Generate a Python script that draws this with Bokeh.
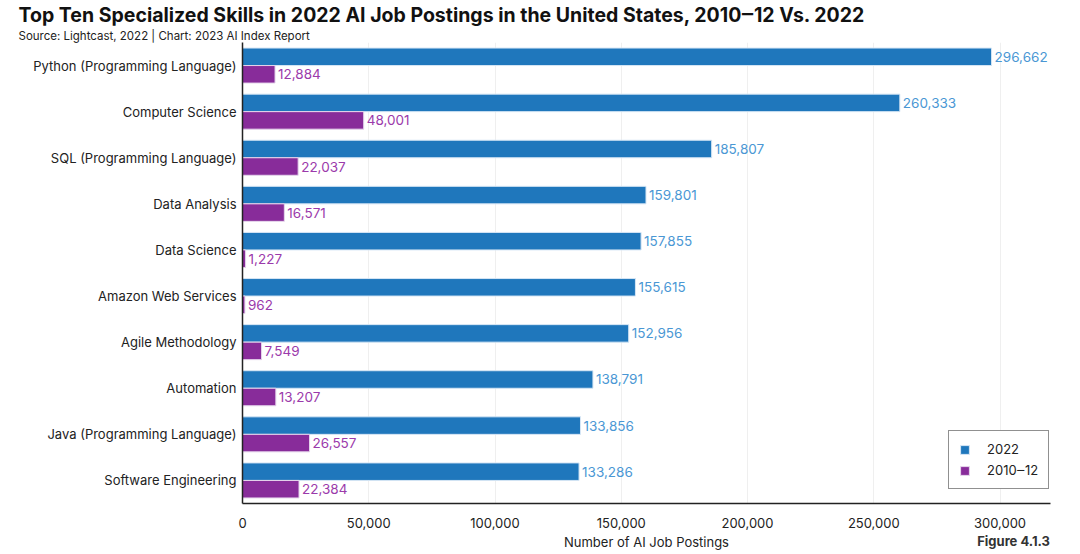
from bokeh.plotting import figure
from bokeh.layouts import column
from bokeh.models import Title, Div, Legend, LegendItem, ColumnDataSource, FactorRange, NumeralTickFormatter, FixedTicker
from bokeh.transform import dodge
from bokeh.core.properties import value
from bokeh.embed import file_html
from bokeh.resources import INLINE

skills = [
    "Python (Programming Language)",
    "Computer Science",
    "SQL (Programming Language)",
    "Data Analysis",
    "Data Science",
    "Amazon Web Services",
    "Agile Methodology",
    "Automation",
    "Java (Programming Language)",
    "Software Engineering",
]
postings_2022 = [296662, 260333, 185807, 159801, 157855, 155615, 152956, 138791, 133856, 133286]
postings_2010_12 = [12884, 48001, 22037, 16571, 1227, 962, 7549, 13207, 26557, 22384]
x_ticks = [0, 50000, 100000, 150000, 200000, 250000, 300000]

FONT = "Inter"
BLUE = "#1f77bc"
PURPLE = "#882c9a"
BLUE_TXT = "#4a97d4"
PURPLE_TXT = "#9b3aab"

src = ColumnDataSource(dict(
    skill=skills,
    v22=postings_2022,
    v10=postings_2010_12,
    l22=[f"{v:,}" for v in postings_2022],
    l10=[f"{v:,}" for v in postings_2010_12],
))

p = figure(
    width=1072, height=552,
    y_range=FactorRange(factors=list(reversed(skills)), range_padding=0),
    x_range=(0, 320000),
    output_backend="svg", toolbar_location=None,
    min_border_left=242, min_border_right=22, min_border_top=0, min_border_bottom=44,
)
p.title.visible = False

y22 = dodge("skill", 0.19, range=p.y_range)
y10 = dodge("skill", -0.19, range=p.y_range)

r22 = p.hbar(y=y22, right="v22", left=0, height=0.38, source=src,
             fill_color=BLUE, line_color="#d6e6f5", line_width=1)
r10 = p.hbar(y=y10, right="v10", left=0, height=0.38, source=src,
             fill_color=PURPLE, line_color="#e6d6ec", line_width=1)

p.text(x="v22", y=y22, text="l22", source=src, x_offset=3,
       text_baseline="middle", text_align="left", text_color=BLUE_TXT,
       text_font=value(FONT), text_font_size="13.5px")
p.text(x="v10", y=y10, text="l10", source=src, x_offset=3,
       text_baseline="middle", text_align="left", text_color=PURPLE_TXT,
       text_font=value(FONT), text_font_size="13.5px")

# axes
p.xaxis.ticker = FixedTicker(ticks=x_ticks)
p.xaxis.formatter = NumeralTickFormatter(format="0,0")
p.xaxis.axis_label = "Number of AI Job Postings"
p.xaxis.axis_label_text_font = FONT
p.xaxis.axis_label_text_font_style = "normal"
p.xaxis.axis_label_text_font_size = "13px"
p.xaxis.axis_label_text_color = "#222222"
p.xaxis.axis_label_standoff = 3
for ax in (p.xaxis, p.yaxis):
    ax.major_label_text_font = FONT
    ax.major_label_text_font_size = "13px"
    ax.major_label_text_color = "#222222"
    ax.major_tick_line_color = None
    ax.minor_tick_line_color = None
    ax.axis_line_color = "#222222"
    ax.axis_line_width = 1.5
p.xaxis.major_label_standoff = 8
p.yaxis.major_label_standoff = 0

p.xgrid.grid_line_color = "#efefef"
p.ygrid.grid_line_color = None
p.outline_line_color = None

legend = Legend(items=[LegendItem(label="2022", renderers=[r22]),
                       LegendItem(label="2010\u201212", renderers=[r10])],
                location=(706, 14))
legend.label_text_font = FONT
legend.label_text_font_size = "13px"
legend.label_text_color = "#222222"
legend.border_line_color = "#222222"
legend.border_line_width = 1.5
legend.glyph_width = 11
legend.glyph_height = 11
legend.spacing = 5
legend.padding = 10
legend.margin = 0
legend.label_standoff = 17
p.add_layout(legend, "center")

p.add_layout(Title(text="Source: Lightcast, 2022 | Chart: 2023 AI Index Report",
                   text_font=FONT, text_font_size="11.5px", text_font_style="normal",
                   text_color="#222222", offset=-224, standoff=0), "above")
p.add_layout(Title(text="Top Ten Specialized Skills in 2022 AI Job Postings in the United States, 2010\u201212 Vs. 2022",
                   text_font=FONT, text_font_size="19.5px", text_font_style="bold",
                   text_color="#111111", offset=-224, standoff=0), "above")

fig_note = Div(text="Figure 4.1.3", width=1050, height=16, margin=(-19, 0, 0, 0),
               styles={"text-align": "right", "font-family": FONT, "font-weight": "bold",
                       "font-size": "13px", "color": "#333333", "line-height": "16px"})

layout = column(p, fig_note, spacing=0)

open("out.html", "w").write(file_html(layout, INLINE))
